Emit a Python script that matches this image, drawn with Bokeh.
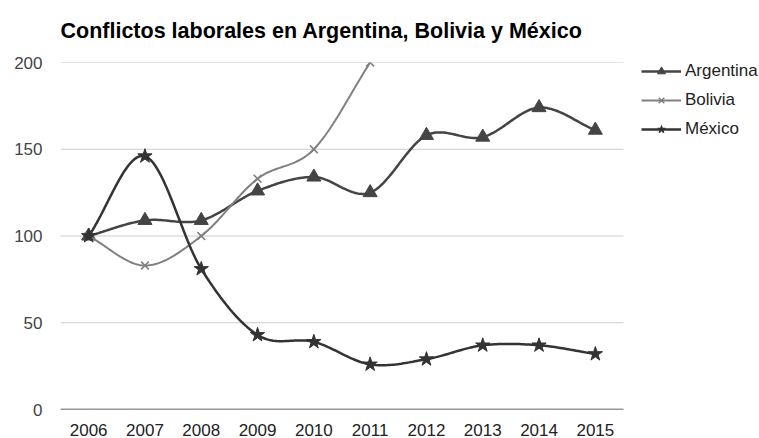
import numpy as np
from bokeh.plotting import figure
from bokeh.models import Range1d, FixedTicker, Legend, LegendItem, NumeralTickFormatter
from bokeh.embed import file_html
from bokeh.resources import INLINE

title_text = "Conflictos laborales en Argentina, Bolivia y México"
years = [2006, 2007, 2008, 2009, 2010, 2011, 2012, 2013, 2014, 2015]
argentina = [100, 109, 109, 126, 134, 125, 158, 157, 174, 161]
bolivia_years = [2006, 2007, 2008, 2009, 2010, 2011]
bolivia = [100, 83, 100, 133, 150, 200]
mexico = [100, 146, 81, 43, 39, 26, 29, 37, 37, 32]
y_ticks = [0, 50, 100, 150, 200]
grid_values = [50, 100, 150, 200]

FONT = "Liberation Sans"

# layout: plot area 60..623 px for ten years, extra room on the right for the legend
X_START = years[0] - 0.5
X_END_DATA = years[-1] + 0.5
PX_PER_YEAR = 56.3
FRAME_W = 759 - 60
X_END = X_START + FRAME_W / PX_PER_YEAR


def smooth(xs, ys, n=30):
    """Cardinal (Catmull-Rom) curve through the data points, as drawn by the original."""
    xs = np.asarray(xs, float)
    ys = np.asarray(ys, float)
    m = len(xs)
    tx = np.zeros(m)
    ty = np.zeros(m)
    for i in range(m):
        if i == 0:
            tx[i], ty[i] = xs[1] - xs[0], ys[1] - ys[0]
        elif i == m - 1:
            tx[i], ty[i] = xs[-1] - xs[-2], ys[-1] - ys[-2]
        else:
            tx[i], ty[i] = (xs[i + 1] - xs[i - 1]) / 2, (ys[i + 1] - ys[i - 1]) / 2
    ox, oy = [], []
    t = np.linspace(0, 1, n)
    for i in range(m - 1):
        p0x, p0y = xs[i], ys[i]
        p3x, p3y = xs[i + 1], ys[i + 1]
        p1x, p1y = p0x + tx[i] / 3, p0y + ty[i] / 3
        p2x, p2y = p3x - tx[i + 1] / 3, p3y - ty[i + 1] / 3
        bx = (1 - t) ** 3 * p0x + 3 * (1 - t) ** 2 * t * p1x + 3 * (1 - t) * t ** 2 * p2x + t ** 3 * p3x
        by = (1 - t) ** 3 * p0y + 3 * (1 - t) ** 2 * t * p1y + 3 * (1 - t) * t ** 2 * p2y + t ** 3 * p3y
        if i > 0:
            bx, by = bx[1:], by[1:]
        ox.extend(bx)
        oy.extend(by)
    return ox, oy


p = figure(width=759, height=438, output_backend="svg", toolbar_location=None,
           x_range=Range1d(X_START, X_END), y_range=Range1d(0, 200),
           min_border_left=60, min_border_right=0, min_border_top=62, min_border_bottom=28)

p.title.text = title_text
p.title.text_font = FONT
p.title.text_font_size = "21.5px"
p.title.text_font_style = "bold"
p.title.text_color = "#000000"
p.title.align = "left"
p.title.vertical_align = "top"
p.title.standoff = 36

p.outline_line_color = None
p.background_fill_color = "white"
p.border_fill_color = "white"

p.xgrid.grid_line_color = None
p.ygrid.grid_line_color = None

# horizontal gridlines and baseline limited to the data area
n_grid = len(grid_values)
p.segment(x0=[X_START] * n_grid, x1=[X_END_DATA] * n_grid, y0=grid_values, y1=grid_values,
          line_color="#cccccc", line_width=1)
p.segment(x0=[X_START], x1=[X_END_DATA], y0=[y_ticks[0]], y1=[y_ticks[0]],
          line_color="#333333", line_width=1.5)

p.yaxis.ticker = FixedTicker(ticks=y_ticks)
p.yaxis.axis_line_color = None
p.yaxis.major_tick_line_color = None
p.yaxis.minor_tick_line_color = None
p.yaxis.major_tick_out = 0
p.yaxis.major_tick_in = 0
p.yaxis.minor_tick_out = 0
p.yaxis.major_label_standoff = 18
p.yaxis.major_label_text_font = FONT
p.yaxis.major_label_text_font_size = "17px"
p.yaxis.major_label_text_color = "#444444"

p.xaxis.ticker = FixedTicker(ticks=years)
p.xaxis.formatter = NumeralTickFormatter(format="0")
p.xaxis.axis_line_color = None
p.xaxis.major_tick_line_color = None
p.xaxis.minor_tick_line_color = None
p.xaxis.major_tick_out = 0
p.xaxis.major_tick_in = 0
p.xaxis.minor_tick_out = 0
p.xaxis.major_label_standoff = 14
p.xaxis.major_label_text_font = FONT
p.xaxis.major_label_text_font_size = "17px"
p.xaxis.major_label_text_color = "#222222"

series = [
    ("Argentina", years, argentina, "#444444", "triangle", 14, 2.5),
    ("Bolivia", bolivia_years, bolivia, "#808080", "x", 11, 2),
    ("México", years, mexico, "#333333", "star", 15, 2.5),
]

items = []
for name, xs, ys, color, marker, size, lw in series:
    cx, cy = smooth(xs, ys)
    lr = p.line(cx, cy, line_color=color, line_width=lw)
    if marker == "x":
        sr = p.scatter(xs, ys, marker=marker, size=size, line_color=color, line_width=1.5)
    else:
        sr = p.scatter(xs, ys, marker=marker, size=size, fill_color=color, line_color=color)
    items.append(LegendItem(label=name, renderers=[lr, sr]))

legend = Legend(items=items, location=(581, 270), orientation="vertical")
legend.border_line_color = None
legend.background_fill_alpha = 0
legend.label_text_font = FONT
legend.label_text_font_size = "17px"
legend.label_text_color = "#222222"
legend.glyph_width = 40
legend.glyph_height = 20
legend.label_height = 20
legend.spacing = 9
legend.label_standoff = 4
legend.padding = 0
legend.margin = 0
p.add_layout(legend, "center")

open("out.html", "w").write(file_html(p, INLINE))
